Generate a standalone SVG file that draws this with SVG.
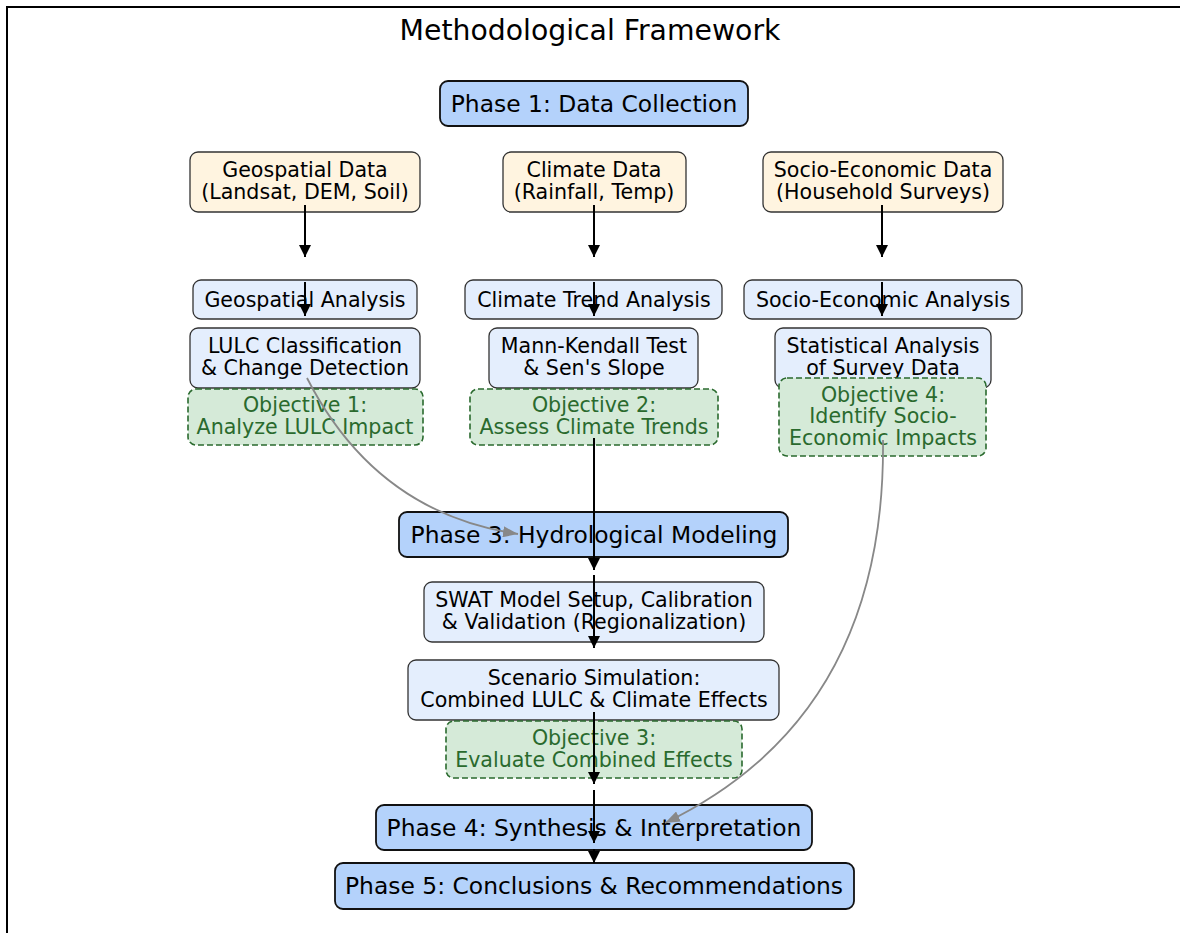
<svg xmlns="http://www.w3.org/2000/svg" width="1180" height="933" viewBox="0 0 1180 933">
<defs>
<style>
text{font-family:"DejaVu Sans","Liberation Sans",sans-serif;text-anchor:middle;fill:#000}
.title{font-size:28.3px}
.ph rect{fill:#b4d2fb;stroke:#111;stroke-width:1.8}
.ph text{font-size:23.4px}
.data rect{fill:#fff4e0;stroke:#333;stroke-width:1.3}
.an rect{fill:#e4eefd;stroke:#333;stroke-width:1.3}
.data text,.an text,.obj text{font-size:20.6px}
.obj rect{fill:#d5ead8;stroke:#2a6a2e;stroke-width:1.6;stroke-dasharray:6,3}
.obj text{fill:#2a6a2e}
.blk{stroke:#000;stroke-width:2;fill:none;marker-end:url(#ah)}
.gry{stroke:#888;stroke-width:1.8;fill:none;marker-end:url(#ahg)}
</style>
<marker id="ah" markerWidth="12" markerHeight="12" refX="12" refY="6" orient="auto" markerUnits="userSpaceOnUse"><path d="M0,0 L12,6 L0,12 z" fill="#000"/></marker>
<marker id="ahg" markerWidth="15" markerHeight="11" refX="15" refY="5.5" orient="auto" markerUnits="userSpaceOnUse"><path d="M0,0 L15,5.5 L0,11 z" fill="#888"/></marker>
</defs>
<rect x="0" y="0" width="1180" height="933" fill="#fff"/>
<path d="M7,933 V7 H1180" fill="none" stroke="#000" stroke-width="2"/>
<text class="title" x="590" y="40">Methodological Framework</text>

<g id="phase1" class="ph"><rect x="440" y="81" width="308" height="45" rx="8"/><text x="594" y="112">Phase 1: Data Collection</text></g>

<g id="geo-data" class="data"><rect x="190" y="152" width="230" height="60" rx="8"/><text x="305" y="177">Geospatial Data</text><text x="305" y="199">(Landsat, DEM, Soil)</text></g>
<g id="clim-data" class="data"><rect x="503" y="152" width="183" height="60" rx="8"/><text x="594" y="177">Climate Data</text><text x="594" y="199">(Rainfall, Temp)</text></g>
<g id="socio-data" class="data"><rect x="763" y="152" width="240" height="60" rx="8"/><text x="883" y="177">Socio-Economic Data</text><text x="883" y="199">(Household Surveys)</text></g>

<g id="geo-an" class="an"><rect x="193" y="280" width="224" height="39" rx="8"/><text x="305" y="307">Geospatial Analysis</text></g>
<g id="clim-an" class="an"><rect x="465" y="280" width="257" height="39" rx="8"/><text x="594" y="307">Climate Trend Analysis</text></g>
<g id="socio-an" class="an"><rect x="744" y="280" width="278" height="39" rx="8"/><text x="883" y="307">Socio-Economic Analysis</text></g>

<g id="lulc" class="an"><rect x="190" y="328" width="230" height="60" rx="8"/><text x="305" y="353">LULC Classification</text><text x="305" y="375">&amp; Change Detection</text></g>
<g id="mk" class="an"><rect x="489" y="328" width="209" height="60" rx="8"/><text x="594" y="353">Mann-Kendall Test</text><text x="594" y="375">&amp; Sen's Slope</text></g>
<g id="stat" class="an"><rect x="775" y="328" width="216" height="60" rx="8"/><text x="883" y="353">Statistical Analysis</text><text x="883" y="375">of Survey Data</text></g>

<g id="obj1" class="obj"><rect x="188" y="389" width="235" height="56" rx="8"/><text x="305" y="412">Objective 1:</text><text x="305" y="434">Analyze LULC Impact</text></g>
<g id="obj2" class="obj"><rect x="470" y="389" width="248" height="56" rx="8"/><text x="594" y="412">Objective 2:</text><text x="594" y="434">Assess Climate Trends</text></g>
<g id="obj4" class="obj"><rect x="779" y="378" width="207" height="78" rx="8"/><text x="883" y="402">Objective 4:</text><text x="883" y="423">Identify Socio-</text><text x="883" y="445">Economic Impacts</text></g>

<g id="phase3" class="ph"><rect x="399" y="512" width="389" height="45" rx="8"/><text x="594" y="543">Phase 3: Hydrological Modeling</text></g>
<g id="swat" class="an"><rect x="424" y="582" width="340" height="60" rx="8"/><text x="594" y="607">SWAT Model Setup, Calibration</text><text x="594" y="629">&amp; Validation (Regionalization)</text></g>
<g id="scen" class="an"><rect x="408" y="660" width="371" height="60" rx="8"/><text x="594" y="685">Scenario Simulation:</text><text x="594" y="707">Combined LULC &amp; Climate Effects</text></g>
<g id="obj3" class="obj"><rect x="446" y="721" width="296" height="57" rx="8"/><text x="594" y="745">Objective 3:</text><text x="594" y="767">Evaluate Combined Effects</text></g>
<g id="phase4" class="ph"><rect x="376" y="805" width="436" height="45" rx="8"/><text x="594" y="836">Phase 4: Synthesis &amp; Interpretation</text></g>
<g id="phase5" class="ph"><rect x="335" y="863" width="519" height="46" rx="8"/><text x="594" y="894">Phase 5: Conclusions &amp; Recommendations</text></g>

<g id="connectors">
<path class="blk" d="M305,205 V257"/>
<path class="blk" d="M305,282 V316"/>
<path class="blk" d="M594,205 V257"/>
<path class="blk" d="M594,282 V316"/>
<path class="blk" d="M882,205 V257"/>
<path class="blk" d="M882,282 V316"/>
<path class="blk" d="M594,438 V570"/>
<path class="blk" d="M594,575 V648"/>
<path class="blk" d="M594,712 V784"/>
<path class="blk" d="M594,790 V843"/>
<path class="blk" d="M594,849 V863"/>
<path class="gry" d="M307,378 Q376,513 518,534"/>
<path class="gry" d="M883,440 Q886,716 665,823"/>
</g>
</svg>
